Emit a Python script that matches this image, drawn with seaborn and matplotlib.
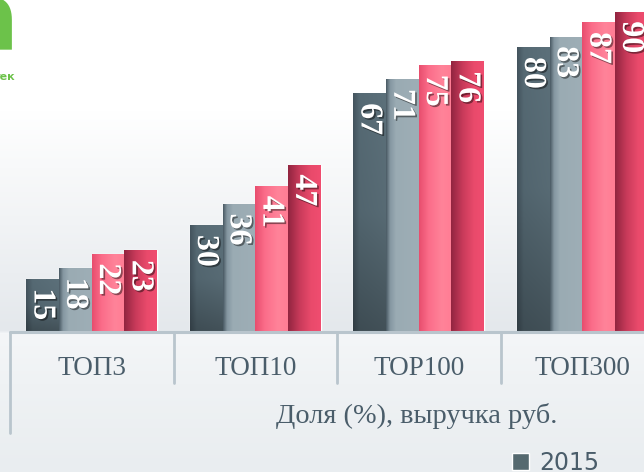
import numpy as np
import pandas as pd
import matplotlib
matplotlib.use('Agg')
import matplotlib.pyplot as plt
import matplotlib.patheffects as pe
from matplotlib.colors import to_rgb
from matplotlib.patches import Patch
import seaborn as sns

# ---- данные ----
categories = ['ТОП3', 'ТОП10', 'TOP100', 'ТОП300']
series = ['2015', '2016', '2017', '2018']
vals_2015 = [15, 30, 67, 80]
vals_2016 = [18, 36, 71, 83]
vals_2017 = [22, 41, 75, 87]
vals_2018 = [23, 47, 76, 90]
axis_title = 'Доля (%), выручка руб.'

df = pd.DataFrame({
    'cat': categories * 4,
    'year': [s for s in series for _ in categories],
    'val': vals_2015 + vals_2016 + vals_2017 + vals_2018,
})

base_colors = ['#566b75', '#9aabb3', '#fd7890', '#dc4166']
# горизонтальные градиенты для столбцов
grad_stops = [
    [(0, '#44545e'), (0.2, '#566a74'), (1, '#5c707a')],
    [(0, '#4b5b65'), (0.12, '#8597a1'), (0.3, '#9aabb3'), (1, '#9eaeb6')],
    [(0, '#e84e6e'), (0.3, '#fb6d8a'), (0.7, '#ff8399'), (1, '#ff7d94')],
    [(0, '#922540'), (0.35, '#c83a5a'), (0.7, '#e94a6b'), (1, '#f04d70')],
]
text_col = '#4a5d6a'
line_col = '#b9c5cd'

sns.set_style('white')
plt.rcParams['font.family'] = ['Liberation Serif', 'DejaVu Serif']

W, H = 644, 472
fig = plt.figure(figsize=(W / 100, H / 100), dpi=100)

# фон с градиентом
ys = np.arange(H)
stops_y = [0, 110, 330, 333, 383, 472]
stops_c = ['#ffffff', '#ffffff', '#e4e8ec', '#f4f6f8', '#eff2f4', '#e9edf0']
rgb = np.array([to_rgb(c) for c in stops_c])
col = np.stack([np.interp(ys, stops_y, rgb[:, k]) for k in range(3)], axis=1)
bg_img = np.repeat(col[:, None, :], 8, axis=1)
bg = fig.add_axes([0, 0, 1, 1], zorder=-1)
bg.imshow(bg_img, aspect='auto', extent=[0, 1, 0, 1])
bg.axis('off')

# основная область
ax_left, ax_right, ax_bottom = 10, 664, 332
ax = fig.add_axes([ax_left / W, (H - ax_bottom) / H, (ax_right - ax_left) / W, ax_bottom / H])
ax.patch.set_alpha(0)

sns.barplot(data=df, x='cat', y='val', hue='year', order=categories, hue_order=series,
            palette=base_colors, width=0.8, saturation=1, legend=False, ax=ax)

ax.set_xlim(-0.5, 3.5)
ax.set_ylim(0, ax_bottom / 3.56)


def grad_image(stops, darken_bottom):
    nx, ny = 64, 48
    xs = np.linspace(0, 1, nx)
    pos = [p for p, _ in stops]
    cs = np.array([to_rgb(c) for _, c in stops])
    row = np.stack([np.interp(xs, pos, cs[:, k]) for k in range(3)], axis=1)
    img = np.repeat(row[None, :, :], ny, axis=0)
    if darken_bottom:
        f = np.interp(np.linspace(0, 1, ny), [0, 0.5, 1], [1.0, 0.95, 0.72])
        img = img * f[:, None, None]
    return np.clip(img, 0, 1)


for i, cont in enumerate(ax.containers):
    img = grad_image(grad_stops[i], i == 0)
    for p in cont.patches:
        x0, w, h = p.get_x(), p.get_width(), p.get_height()
        im = ax.imshow(img, aspect='auto', extent=[x0, x0 + w, 0, h],
                       zorder=p.get_zorder() + 0.1, interpolation='bilinear')
        im.set_clip_path(p)
        ax.annotate(f'{h:.0f}', (x0 + w / 2, h), xytext=(-0.5, -7), textcoords='offset points',
                    rotation=270, ha='center', va='top', color='white',
                    fontsize=23, fontweight='bold', zorder=5,
                    path_effects=[pe.SimplePatchShadow(offset=(1.2, -1.2), shadow_rgbFace='black', alpha=0.45),
                                  pe.Normal()])

ax.set_xlim(-0.5, 3.5)
ax.set_ylim(0, ax_bottom / 3.56)

for s in ax.spines.values():
    s.set_visible(False)
ax.set_yticks([])
ax.set_xlabel('')
ax.set_ylabel('')
ax.tick_params(axis='x', length=0, pad=17, labelsize=19.5, labelcolor=text_col)

# линии таблицы категорий
trans = ax.get_xaxis_transform()
ax.axhline(0, color=line_col, lw=2.2, clip_on=False, zorder=6)
for xb in [0.5, 1.5, 2.5, 3.5]:
    ax.plot([xb, xb], [0, -51 / ax_bottom], transform=trans, color=line_col, lw=2, clip_on=False)
ax.plot([-0.5, -0.5], [0, -101 / ax_bottom], transform=trans, color=line_col, lw=2, clip_on=False)

fig.text(417 / W, 1 - 416 / H, axis_title, ha='center', va='center', fontsize=20.4, color=text_col)

# легенда (видна только первая серия)
fig.legend(handles=[Patch(facecolor='#55696f')], labels=[series[0]], loc='upper left',
           bbox_to_anchor=(512 / W, 1 - 451 / H), frameon=False,
           prop={'family': 'DejaVu Sans', 'size': 17}, labelcolor=text_col,
           handlelength=0.7, handleheight=0.7, handletextpad=0.45,
           borderaxespad=0, borderpad=0)

# логотип (обрезан)
fig.text(19 / W, 1 - 50 / H, 'a', ha='right', va='baseline', fontsize=70,
         fontweight='bold', color='#6cc24a', family='DejaVu Sans')
fig.text(16 / W, 1 - 80 / H, 'тек', ha='right', va='baseline', fontsize=8,
         fontweight='bold', color='#6cc24a', family='DejaVu Sans')

fig.savefig('out.png', dpi=100)
